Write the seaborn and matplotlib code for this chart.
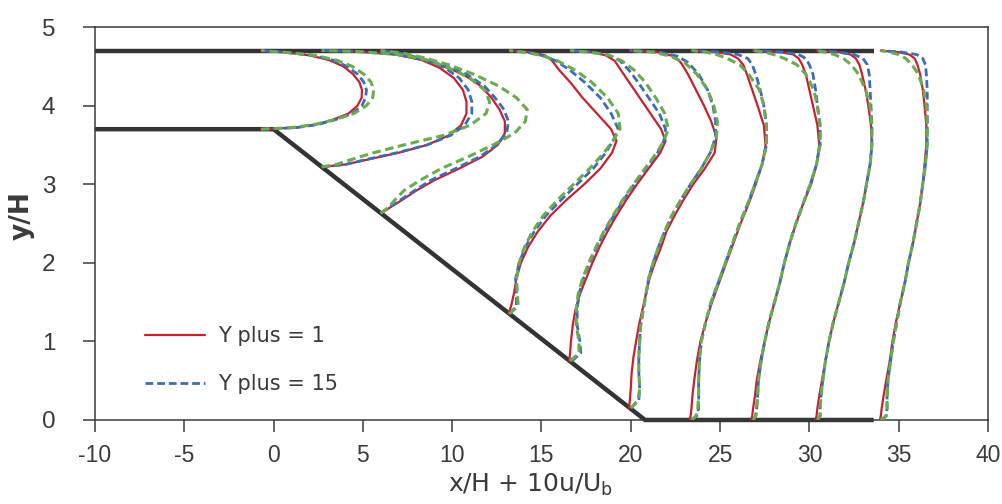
import matplotlib
matplotlib.use('Agg')
import matplotlib.pyplot as plt
from matplotlib.lines import Line2D
import pandas as pd
import seaborn as sns

# channel walls
wall_top_x = [-10, 33.6]
wall_top_y = [4.7, 4.7]
wall_low_x = [-10, 0, 20.8, 33.6]
wall_low_y = [3.7, 3.7, 0, 0]

# velocity profiles, x = x/H + 10u/Ub
st1_y = [3.70, 3.72, 3.76, 3.82, 3.90, 4.00, 4.10, 4.20, 4.30, 4.40, 4.50, 4.58, 4.64, 4.68, 4.70]
st1_red = [-0.7, 1.2, 2.4, 3.3, 4.2, 4.7, 4.93, 4.95, 4.8, 4.45, 3.9, 3.1, 2.0, 0.5, -0.7]
st1_blue = [-0.7, 1.3, 2.5, 3.45, 4.4, 4.95, 5.15, 5.2, 5.05, 4.7, 4.1, 3.3, 2.2, 0.6, -0.7]
st1_green = [-0.7, 1.0, 2.3, 3.4, 4.5, 5.2, 5.55, 5.6, 5.45, 5.05, 4.4, 3.5, 2.3, 0.6, -0.7]

st2_y = [3.22, 3.25, 3.31, 3.40, 3.50, 3.62, 3.75, 3.90, 4.05, 4.20, 4.35, 4.48, 4.58, 4.65, 4.69, 4.70]
st2_red = [2.7, 4.0, 5.2, 7.0, 8.6, 9.8, 10.5, 10.8, 10.8, 10.6, 10.1, 9.3, 8.3, 6.8, 4.5, 2.7]
st2_blue = [2.7, 4.0, 5.1, 6.9, 8.6, 9.9, 10.7, 11.1, 11.1, 10.9, 10.4, 9.6, 8.5, 7.0, 4.6, 2.7]
st2_green = [2.7, 3.5, 4.3, 5.6, 7.3, 9.5, 11.0, 11.9, 12.1, 11.8, 11.0, 9.8, 8.6, 7.0, 4.6, 2.7]

st3_y = [2.63, 2.70, 2.80, 2.92, 3.05, 3.20, 3.35, 3.50, 3.65, 3.80, 3.95, 4.10, 4.25, 4.40, 4.52, 4.61, 4.67, 4.70]
st3_red = [6.0, 6.5, 7.2, 8.0, 9.0, 10.4, 11.7, 12.55, 12.95, 12.95, 12.65, 12.2, 11.6, 10.6, 9.3, 7.9, 6.9, 6.0]
st3_blue = [6.0, 6.45, 7.1, 7.9, 8.8, 10.2, 11.55, 12.5, 13.05, 13.15, 12.9, 12.4, 11.8, 10.8, 9.5, 8.1, 7.0, 6.0]
st3_green = [6.0, 6.4, 6.8, 7.3, 8.2, 9.4, 10.9, 12.3, 13.5, 14.1, 14.2, 13.6, 12.6, 11.2, 9.8, 8.4, 7.2, 6.0]

st4_y = [1.35, 1.45, 1.60, 1.80, 2.00, 2.20, 2.40, 2.60, 2.80, 3.00, 3.20, 3.40, 3.55, 3.70, 3.90,
         4.10, 4.30, 4.45, 4.57, 4.64, 4.68, 4.70]
st4_red = [13.15, 13.3, 13.45, 13.6, 13.85, 14.25, 14.8, 15.5, 16.4, 17.4, 18.3, 18.95, 19.2, 18.9, 18.1,
           17.3, 16.6, 16.0, 15.6, 15.2, 14.4, 13.2]
st4_blue = [13.2, 13.6, 13.6, 13.55, 13.75, 14.1, 14.6, 15.25, 16.1, 17.0, 17.9, 18.6, 19.0, 19.3, 18.9,
            18.3, 17.4, 16.6, 15.8, 15.0, 14.2, 13.2]
st4_green = [13.2, 13.7, 13.65, 13.6, 13.75, 14.05, 14.5, 15.1, 15.9, 16.8, 17.7, 18.5, 19.0, 19.4, 19.3,
             18.7, 17.8, 16.9, 15.9, 15.0, 14.0, 13.2]

st5_y = [0.75, 0.85, 1.00, 1.20, 1.40, 1.60, 1.80, 2.00, 2.20, 2.40, 2.60, 2.80, 3.00, 3.20, 3.40, 3.55,
         3.70, 3.90, 4.10, 4.30, 4.45, 4.57, 4.64, 4.68, 4.70]
st5_red = [16.55, 16.6, 16.65, 16.75, 16.9, 17.15, 17.5, 17.85, 18.25, 18.7, 19.2, 19.75, 20.35, 21.0, 21.65,
           21.95, 21.7, 21.1, 20.5, 19.9, 19.45, 19.1, 18.6, 17.8, 16.6]
st5_blue = [16.7, 17.2, 17.15, 17.0, 17.0, 17.1, 17.35, 17.7, 18.1, 18.55, 19.05, 19.6, 20.2, 20.85, 21.5,
            21.85, 21.95, 21.6, 21.0, 20.4, 19.9, 19.4, 18.8, 17.9, 16.6]
st5_green = [16.6, 17.1, 17.1, 16.95, 16.95, 17.05, 17.3, 17.65, 18.05, 18.5, 19.0, 19.55, 20.15, 20.8, 21.45,
             21.85, 22.1, 21.9, 21.4, 20.8, 20.2, 19.5, 18.8, 17.7, 16.6]

st6_y = [0.15, 0.25, 0.40, 0.60, 0.80, 1.00, 1.20, 1.40, 1.60, 1.80, 2.00, 2.20, 2.40, 2.60, 2.80, 3.00,
         3.20, 3.40, 3.60, 3.80, 4.00, 4.20, 4.40, 4.55, 4.63, 4.68, 4.70]
st6_red = [19.9, 19.95, 20.0, 20.05, 20.15, 20.3, 20.45, 20.65, 20.85, 21.05, 21.35, 21.7, 22.0, 22.45, 22.95,
           23.5, 24.15, 24.7, 24.8, 24.5, 24.1, 23.65, 23.2, 22.8, 22.4, 21.5, 19.95]
st6_blue = [20.0, 20.45, 20.5, 20.45, 20.45, 20.5, 20.55, 20.7, 20.85, 21.0, 21.25, 21.55, 21.9, 22.3, 22.8,
            23.35, 23.95, 24.45, 24.75, 24.75, 24.6, 24.3, 23.8, 23.2, 22.6, 21.6, 19.95]
st6_green = [20.0, 20.4, 20.5, 20.45, 20.45, 20.5, 20.55, 20.7, 20.85, 21.0, 21.25, 21.55, 21.9, 22.3, 22.8,
             23.35, 23.95, 24.45, 24.8, 24.85, 24.65, 24.3, 23.7, 23.0, 22.2, 21.3, 19.95]

# stations 7-10 sit on the flat floor
y_flat = [0.00, 0.05, 0.15, 0.30, 0.50, 0.75, 1.00, 1.25, 1.50, 1.75, 2.00, 2.25, 2.50, 2.75, 3.00, 3.25,
          3.50, 3.75, 4.00, 4.20, 4.40, 4.52, 4.60, 4.65, 4.68, 4.70]
st7_red = [23.3, 23.35, 23.4, 23.45, 23.55, 23.7, 23.9, 24.2, 24.55, 24.95, 25.35, 25.75, 26.15, 26.6, 27.0,
           27.35, 27.55, 27.45, 27.1, 26.8, 26.5, 26.3, 26.0, 25.6, 24.8, 23.4]
st7_blue = [23.4, 23.7, 23.8, 23.8, 23.8, 23.85, 23.95, 24.2, 24.5, 24.9, 25.3, 25.7, 26.1, 26.55, 26.95,
            27.35, 27.6, 27.6, 27.45, 27.25, 27.0, 26.8, 26.55, 26.0, 25.0, 23.4]
st7_green = [23.4, 23.65, 23.75, 23.8, 23.8, 23.85, 23.95, 24.2, 24.5, 24.9, 25.3, 25.7, 26.1, 26.55, 26.95,
             27.35, 27.6, 27.6, 27.45, 27.2, 26.6, 26.1, 25.4, 24.8, 24.2, 23.4]

st8_red = [26.75, 26.8, 26.85, 26.95, 27.05, 27.25, 27.5, 27.75, 28.05, 28.35, 28.6, 28.9, 29.25, 29.65, 30.1,
           30.4, 30.55, 30.45, 30.2, 30.0, 29.8, 29.6, 29.4, 29.1, 28.4, 26.85]
st8_blue = [26.85, 27.0, 27.05, 27.1, 27.15, 27.3, 27.5, 27.75, 28.05, 28.35, 28.6, 28.9, 29.25, 29.65, 30.05,
            30.4, 30.6, 30.6, 30.45, 30.35, 30.2, 30.0, 29.8, 29.4, 28.6, 26.85]
st8_green = [26.85, 27.0, 27.05, 27.1, 27.15, 27.3, 27.5, 27.75, 28.05, 28.35, 28.6, 28.9, 29.25, 29.65, 30.05,
             30.4, 30.6, 30.6, 30.45, 30.25, 29.8, 29.3, 28.6, 28.0, 27.5, 26.85]

st9_red = [30.35, 30.4, 30.45, 30.55, 30.7, 30.9, 31.1, 31.35, 31.65, 31.95, 32.2, 32.5, 32.75, 33.0, 33.2,
           33.4, 33.5, 33.45, 33.3, 33.15, 32.95, 32.8, 32.6, 32.3, 31.7, 30.4]
st9_blue = [30.45, 30.6, 30.6, 30.65, 30.75, 30.9, 31.1, 31.35, 31.65, 31.95, 32.2, 32.5, 32.75, 33.0, 33.2,
            33.4, 33.5, 33.5, 33.45, 33.4, 33.35, 33.25, 33.0, 32.5, 31.6, 30.4]
st9_green = [30.45, 30.6, 30.6, 30.65, 30.75, 30.9, 31.1, 31.35, 31.65, 31.95, 32.2, 32.5, 32.75, 33.0, 33.2,
             33.4, 33.5, 33.5, 33.4, 33.15, 32.75, 32.35, 31.9, 31.4, 30.9, 30.4]

st10_red = [33.95, 34.0, 34.05, 34.15, 34.3, 34.5, 34.65, 34.85, 35.1, 35.35, 35.55, 35.8, 36.0, 36.2, 36.35,
            36.45, 36.55, 36.55, 36.45, 36.35, 36.2, 36.05, 35.9, 35.6, 35.0, 34.0]
st10_blue = [34.0, 34.3, 34.35, 34.35, 34.4, 34.55, 34.7, 34.9, 35.1, 35.35, 35.55, 35.8, 36.0, 36.2, 36.35,
             36.5, 36.6, 36.6, 36.6, 36.6, 36.55, 36.5, 36.35, 36.0, 35.2, 34.0]
st10_green = [34.0, 34.3, 34.35, 34.35, 34.4, 34.55, 34.7, 34.9, 35.1, 35.35, 35.55, 35.8, 36.0, 36.2, 36.35,
              36.5, 36.6, 36.6, 36.55, 36.4, 36.1, 35.75, 35.4, 35.0, 34.5, 34.0]

xticks = [-10, -5, 0, 5, 10, 15, 20, 25, 30, 35, 40]
xtick_labels = ['-10', '-5', '0', '5', '10', '15', '20', '25', '30', '35', '40']
yticks = [0, 1, 2, 3, 4, 5]
ytick_labels = ['0', '1', '2', '3', '4', '5']
legend_labels = ['Y plus = 1', 'Y plus = 15']

profiles = [
    (st1_y, st1_red, st1_blue, st1_green),
    (st2_y, st2_red, st2_blue, st2_green),
    (st3_y, st3_red, st3_blue, st3_green),
    (st4_y, st4_red, st4_blue, st4_green),
    (st5_y, st5_red, st5_blue, st5_green),
    (st6_y, st6_red, st6_blue, st6_green),
    (y_flat, st7_red, st7_blue, st7_green),
    (y_flat, st8_red, st8_blue, st8_green),
    (y_flat, st9_red, st9_blue, st9_green),
    (y_flat, st10_red, st10_blue, st10_green),
]

RED = '#c8202f'
BLUE = '#3a6db5'
GREEN = '#6aab50'
WALL = '#323434'
INK = '#3a3a3a'


def build_frame():
    recs = []
    for i, (ys, xr, xb, xg) in enumerate(profiles):
        for name, xs in (('red', xr), ('blue', xb), ('green', xg)):
            for k, (xv, yv) in enumerate(zip(xs, ys)):
                recs.append({'station': i, 'series': name, 'order': k, 'x': xv, 'y': yv})
    return pd.DataFrame(recs)


def main():
    df = build_frame()

    sns.set_style('ticks')
    plt.rcParams['font.family'] = ['DejaVu Sans']
    tickfont = ['Liberation Sans', 'DejaVu Sans']

    fig = plt.figure(figsize=(10.03, 5.04), dpi=100)
    ax = fig.add_axes([0.0947, 0.1667, 0.8903, 0.7797])

    # walls
    ax.plot(wall_top_x, wall_top_y, color=WALL, lw=3.2, solid_capstyle='butt', clip_on=False, zorder=2)
    ax.plot(wall_low_x, wall_low_y, color=WALL, lw=3.2, solid_capstyle='butt',
            solid_joinstyle='miter', clip_on=False, zorder=2)

    styles = [
        ('red', RED, 1.6, '-'),
        ('blue', BLUE, 2.0, (0, (2.8, 1.4))),
        ('green', GREEN, 2.2, (0, (2.8, 1.5))),
    ]
    for name, col, lw, ls in styles:
        sub = df[df['series'] == name]
        sns.lineplot(data=sub, x='x', y='y', units='station', estimator=None, sort=False,
                     color=col, lw=lw, linestyle=ls, legend=False, ax=ax, zorder=3)

    ax.set_xlim(-10, 40)
    ax.set_ylim(0, 5)
    for sp in ax.spines.values():
        sp.set_color(INK)
        sp.set_linewidth(1.1)

    ax.set_xticks(xticks)
    ax.set_xticklabels(xtick_labels, fontfamily=tickfont, fontsize=16.5, color=INK)
    ax.set_yticks(yticks)
    ax.set_yticklabels(ytick_labels, fontfamily=tickfont, fontsize=17.5, color=INK)
    ax.tick_params(axis='both', direction='out', length=8.6, width=1.1, color=INK)
    ax.tick_params(axis='x', pad=9)
    ax.tick_params(axis='y', pad=20)

    ax.set_xlabel('x/H + 10u/U$_\\mathrm{b}$', fontsize=18, color=INK)
    ax.xaxis.set_label_coords(0.488, -0.132)
    ax.set_ylabel('y/H', fontsize=19, fontweight='bold', color=INK)
    ax.yaxis.set_label_coords(-0.068, 0.52)

    handles = [Line2D([], [], color=RED, lw=1.6),
               Line2D([], [], color=BLUE, lw=2.0, linestyle=(0, (2.8, 1.4)))]
    ax.legend(handles, legend_labels, loc='lower left', bbox_to_anchor=(0.056, 0.066),
              frameon=False, fontsize=15, handlelength=2.9, handletextpad=0.6,
              labelspacing=1.35, borderpad=0, borderaxespad=0, labelcolor=INK)

    fig.savefig('out.png', dpi=100)


if __name__ == '__main__':
    main()
